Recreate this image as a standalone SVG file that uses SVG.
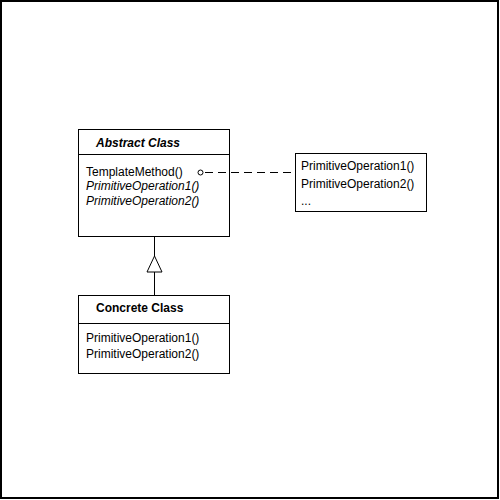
<svg xmlns="http://www.w3.org/2000/svg" width="500" height="500" viewBox="0 0 500 500">
<style>
text{font-family:"Liberation Sans",Arial,sans-serif;font-size:12px;fill:#000}
.b{font-weight:bold}
.i{font-style:italic}
.box{fill:#fff;stroke:#000;stroke-width:1}
.ln{stroke:#000;stroke-width:1;fill:none}
</style>
<rect x="0" y="0" width="500" height="500" fill="#fff"/>
<rect x="1" y="1" width="497" height="497" fill="none" stroke="#000" stroke-width="2"/>
<g id="abstract-class">
<rect class="box" x="78.5" y="129.5" width="151" height="107"/>
<line class="ln" x1="78.5" y1="154.5" x2="229.5" y2="154.5"/>
<text class="b i" x="96" y="147">Abstract Class</text>
<text x="86" y="176">TemplateMethod()</text>
<text class="i" x="86" y="190">PrimitiveOperation1()</text>
<text class="i" x="86" y="205">PrimitiveOperation2()</text>
</g>
<g id="note">
<rect class="box" x="295.5" y="153.5" width="131" height="58"/>
<text x="301" y="170">PrimitiveOperation1()</text>
<text x="301" y="188">PrimitiveOperation2()</text>
<text x="301" y="205">...</text>
</g>
<g id="concrete-class">
<rect class="box" x="78.5" y="295.5" width="151" height="78"/>
<line class="ln" x1="78.5" y1="323.5" x2="229.5" y2="323.5"/>
<text class="b" x="96" y="312">Concrete Class</text>
<text x="86" y="342">PrimitiveOperation1()</text>
<text x="86" y="358">PrimitiveOperation2()</text>
</g>
<g id="connectors">
<line class="ln" x1="154.5" y1="237" x2="154.5" y2="256"/>
<polygon points="154.5,256 147,272 162,272" fill="#fff" stroke="#000"/>
<line class="ln" x1="154.5" y1="272" x2="154.5" y2="295"/>
<circle cx="200.5" cy="172.5" r="2.5" fill="#fff" stroke="#000"/>
<line class="ln" x1="205" y1="172.5" x2="295" y2="172.5" stroke-dasharray="8,5"/>
</g>
</svg>
